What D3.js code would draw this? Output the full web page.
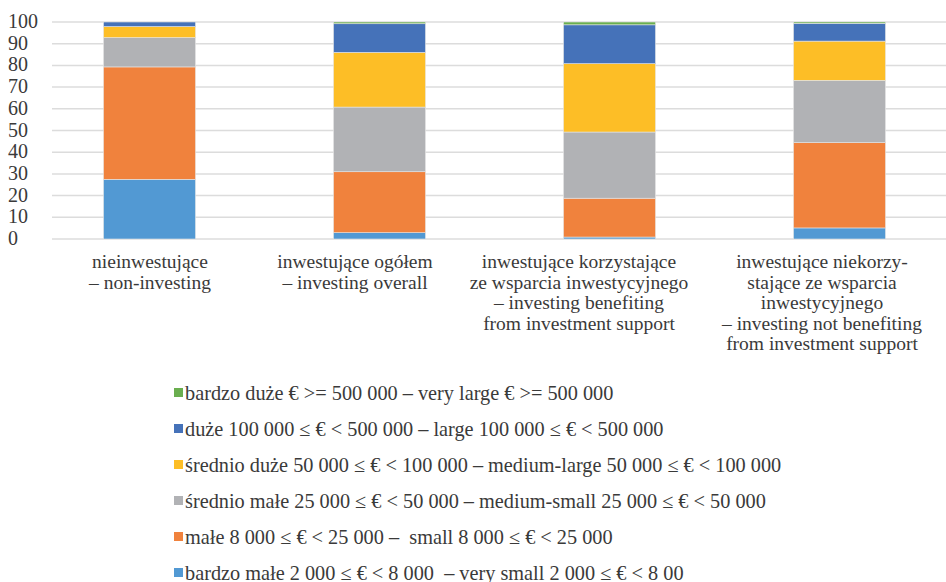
<!DOCTYPE html>
<html>
<head>
<meta charset="utf-8">
<script src="https://cdn.jsdelivr.net/npm/d3@7"></script>
<style>
  body { margin: 0; background: #fff; }
</style>
</head>
<body>
<div id="chart"></div>
<script>
// categories (one line per row of the label)
const categories = ["non", "overall", "benefit", "notbenefit"];
const categoryLabels = [
  ["nieinwestujące", "– non-investing"],
  ["inwestujące ogółem", "– investing overall"],
  ["inwestujące korzystające", "ze wsparcia inwestycyjnego", "– investing benefiting", "from investment support"],
  ["inwestujące niekorzy-", "stające ze wsparcia", "inwestycyjnego", "– investing not benefiting", "from investment support"]
];

// series, bottom to top of the stack
const seriesKeys = ["verySmall", "small", "mediumSmall", "mediumLarge", "large", "veryLarge"];
const verySmall   = [27.5, 2.9, 0.9, 5.1];
const small       = [51.8, 28.1, 17.9, 39.3];
const mediumSmall = [13.5, 29.8, 30.5, 28.7];
const mediumLarge = [5.1, 25.2, 31.5, 18.1];
const large       = [2.1, 13.2, 17.9, 8.2];
const veryLarge   = [0.0, 0.8, 1.3, 0.6];

const legendLabels = {
  veryLarge: "bardzo duże € >= 500 000 – very large € >= 500 000",
  large: "duże 100 000 ≤ € < 500 000 – large 100 000 ≤ € < 500 000",
  mediumLarge: "średnio duże 50 000 ≤ € < 100 000 – medium-large 50 000 ≤ € < 100 000",
  mediumSmall: "średnio małe 25 000 ≤ € < 50 000 – medium-small 25 000 ≤ € < 50 000",
  small: "małe 8 000 ≤ € < 25 000 –  small 8 000 ≤ € < 25 000",
  verySmall: "bardzo małe 2 000 ≤ € < 8 000  – very small 2 000 ≤ € < 8 00"
};

const yTicks = [0, 10, 20, 30, 40, 50, 60, 70, 80, 90, 100];

const colors = {
  verySmall: "#5299d3",
  small: "#f0823d",
  mediumSmall: "#b1b2b5",
  mediumLarge: "#fdbe26",
  large: "#4572b9",
  veryLarge: "#6aae4f"
};

const width = 946;
const height = 582;
const FONT = '"Liberation Serif"';

// label centres as laid out in the original figure
const labelX = [150, 355, 579, 822];

const rows = categories.map((c, i) => ({
  cat: c,
  verySmall: verySmall[i],
  small: small[i],
  mediumSmall: mediumSmall[i],
  mediumLarge: mediumLarge[i],
  large: large[i],
  veryLarge: veryLarge[i]
}));

const svg = d3.select("#chart")
  .append("svg")
    .attr("width", width)
    .attr("height", height)

const x = d3.scaleBand()
  .domain(categories)
  .range([34.5, 954.5])
  .paddingInner(0.6)
  .paddingOuter(0.3)

const y = d3.scaleLinear()
  .domain([0, 100])
  .range([239, 22])

/// gridlines
svg.append("g")
  .selectAll("line")
  .data(yTicks)
  .join("line")
    .attr("x1", 52)
    .attr("x2", width)
    .attr("y1", d => y(d))
    .attr("y2", d => y(d))
    .attr("stroke", "#dcdcdc")
    .attr("stroke-width", 1.5)

/// y tick labels (left aligned)
svg.append("g")
  .selectAll("text")
  .data(yTicks)
  .join("text")
    .attr("x", 8)
    .attr("y", d => y(d) - 1)
    .attr("dominant-baseline", "central")
    .attr("fill", "#3a3a3a")
    .style("font-family", FONT)
    .style("font-size", "20px")
    .text(d => d)

/// stacked bars
const stacked = d3.stack().keys(seriesKeys)(rows);

svg.append("g")
  .selectAll("g")
  .data(stacked)
  .join("g")
    .attr("fill", d => colors[d.key])
  .selectAll("rect")
  .data(d => d)
  .join("rect")
    .attr("x", d => x(d.data.cat))
    .attr("width", x.bandwidth())
    .attr("y", d => y(d[1]))
    .attr("height", d => y(d[0]) - y(d[1]))
    .attr("stroke", "#e6e6e6")
    .attr("stroke-width", 0.6)

/// category labels
const catText = svg.append("g")
  .selectAll("text")
  .data(categoryLabels)
  .join("text")
    .attr("text-anchor", "middle")
    .attr("fill", "#3a3a3a")
    .style("font-family", FONT)
    .style("font-size", "19.5px")

catText.selectAll("tspan")
  .data((d, i) => d.map(line => ({ line, i })))
  .join("tspan")
    .attr("x", d => labelX[d.i])
    .attr("y", (d, j) => 268 + j * 20.6)
    .text(d => d.line)

/// legend, top entry is the top of the stack
const legendKeys = seriesKeys.slice().reverse();
const legend = svg.append("g")
  .selectAll("g")
  .data(legendKeys)
  .join("g")
    .attr("transform", (d, i) => `translate(174, ${392.5 + i * 36})`)

legend.append("rect")
  .attr("x", 0)
  .attr("y", -4.5)
  .attr("width", 9)
  .attr("height", 9)
  .attr("fill", d => colors[d])

legend.append("text")
  .attr("x", 11)
  .attr("y", 0)
  .attr("dominant-baseline", "central")
  .attr("fill", "#3a3a3a")
  .style("font-family", FONT)
  .style("font-size", "20.3px")
  .style("white-space", "pre") // keep the double spaces of the original
  .text(d => legendLabels[d])
</script>
</body>
</html>
